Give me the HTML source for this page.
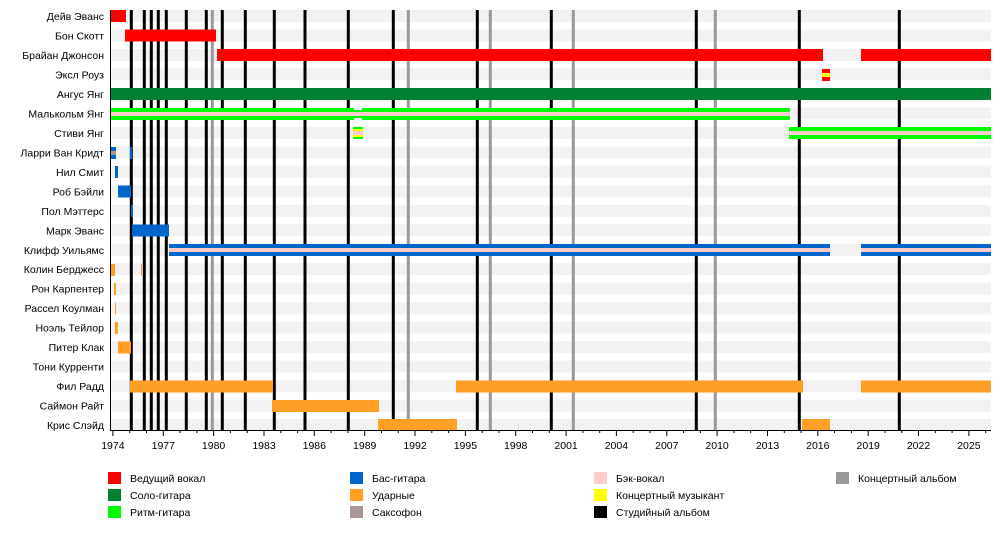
<!DOCTYPE html>
<html><head><meta charset="utf-8"><style>
body{margin:0;background:#fff}
svg{display:block;font-family:"Liberation Sans",Arial,sans-serif;font-size:10.5px}
</style></head><body>
<svg width="1000" height="540" xmlns="http://www.w3.org/2000/svg">
<g fill="#f2f2f2">
<rect x="111" y="10" width="880" height="12"/><rect x="111" y="29.5" width="880" height="12"/><rect x="111" y="49" width="880" height="12"/><rect x="111" y="68.4" width="880" height="12"/><rect x="111" y="87.9" width="880" height="12"/><rect x="111" y="107.4" width="880" height="12"/><rect x="111" y="126.9" width="880" height="12"/><rect x="111" y="146.4" width="880" height="12"/><rect x="111" y="165.8" width="880" height="12"/><rect x="111" y="185.3" width="880" height="12"/><rect x="111" y="204.8" width="880" height="12"/><rect x="111" y="224.3" width="880" height="12"/><rect x="111" y="243.8" width="880" height="12"/><rect x="111" y="263.2" width="880" height="12"/><rect x="111" y="282.7" width="880" height="12"/><rect x="111" y="302.2" width="880" height="12"/><rect x="111" y="321.7" width="880" height="12"/><rect x="111" y="341.2" width="880" height="12"/><rect x="111" y="360.6" width="880" height="12"/><rect x="111" y="380.1" width="880" height="12"/><rect x="111" y="399.6" width="880" height="12"/><rect x="111" y="419" width="880" height="11"/>
</g>
<g fill="#000">
<rect x="129.8" y="10" width="3" height="420"/><rect x="142.8" y="10" width="3" height="420"/><rect x="149.8" y="10" width="3" height="420"/><rect x="156.8" y="10" width="3" height="420"/><rect x="164.8" y="10" width="3" height="420"/><rect x="184.8" y="10" width="3" height="420"/><rect x="204.8" y="10" width="3" height="420"/><rect x="220.8" y="10" width="3" height="420"/><rect x="243.8" y="10" width="3" height="420"/><rect x="272.8" y="10" width="3" height="420"/><rect x="303.5" y="10" width="3" height="420"/><rect x="346.8" y="10" width="3" height="420"/><rect x="391.8" y="10" width="3" height="420"/><rect x="475.8" y="10" width="3" height="420"/><rect x="549.8" y="10" width="3" height="420"/><rect x="694.8" y="10" width="3" height="420"/><rect x="797.8" y="10" width="3" height="420"/><rect x="897.8" y="10" width="3" height="420"/>
</g>
<g fill="#999">
<rect x="210.8" y="10" width="3" height="420"/><rect x="406.8" y="10" width="3" height="420"/><rect x="488.8" y="10" width="3" height="420"/><rect x="571.8" y="10" width="3" height="420"/><rect x="713.8" y="10" width="3" height="420"/>
</g>
<g fill="#ff0000">
<rect x="111" y="10" width="15" height="12"/>
<rect x="125" y="29.5" width="91" height="12"/>
<rect x="217" y="49" width="606" height="12"/><rect x="861" y="49" width="130" height="12"/>
<rect x="822" y="69" width="8" height="12"/>
</g>
<rect x="822" y="73" width="8" height="4" fill="#ffff00"/>
<rect x="111" y="88" width="880" height="12" fill="#008033"/>
<rect x="111" y="108" width="243" height="12" fill="#00ff00"/><rect x="362" y="108" width="428" height="12" fill="#00ff00"/>
<rect x="354" y="110" width="8" height="8" fill="#00ff00"/>
<rect x="111" y="112" width="679" height="4" fill="#ffcccc"/>
<rect x="353" y="127" width="10" height="12" fill="#00ff00"/>
<rect x="353" y="129" width="10" height="8" fill="#ffff00"/>
<rect x="353" y="131" width="10" height="4" fill="#ffcccc"/>
<rect x="789" y="127" width="202" height="12" fill="#00ff00"/>
<rect x="789" y="131" width="202" height="4" fill="#ffcccc"/>
<g fill="#0066cc">
<rect x="111" y="147" width="5" height="12"/><rect x="130" y="147" width="2" height="12"/>
<rect x="115" y="166" width="3" height="12"/>
<rect x="118" y="185.5" width="13" height="12"/>
<rect x="131" y="205" width="2" height="12"/>
<rect x="132" y="224.5" width="37" height="12"/>
<rect x="169" y="244" width="661" height="12"/><rect x="861" y="244" width="130" height="12"/>
</g>
<rect x="111" y="151" width="5" height="4" fill="#ad9696"/>
<rect x="169" y="248" width="661" height="4" fill="#ffcccc"/><rect x="861" y="248" width="130" height="4" fill="#ffcccc"/>
<g fill="#ff9f26">
<rect x="111" y="264" width="4" height="12"/><rect x="141" y="264" width="1" height="12"/>
<rect x="114" y="283" width="2" height="12"/>
<rect x="115" y="302.5" width="1" height="12"/>
<rect x="115" y="322" width="3" height="12"/>
<rect x="118" y="341.5" width="13" height="12"/>
<rect x="130" y="380.5" width="143" height="12"/><rect x="456" y="380.5" width="347" height="12"/><rect x="861" y="380.5" width="130" height="12"/>
<rect x="272" y="400" width="107" height="12"/>
<rect x="378" y="419" width="79" height="11"/><rect x="802" y="419" width="28" height="11"/>
</g>
<rect x="110" y="10" width="1" height="421" fill="#000"/>
<rect x="110" y="430" width="881" height="1" fill="#000"/>
<g stroke="#000" stroke-width="1">
<path d="M112.9 430v6M163.3 430v6M213.6 430v6M264 430v6M314.3 430v6M364.7 430v6M415 430v6M465.4 430v6M515.7 430v6M566.1 430v6M616.4 430v6M666.8 430v6M717.1 430v6M767.5 430v6M817.8 430v6M868.2 430v6M918.5 430v6M968.9 430v6"/>
<path d="M129.7 430v3M146.5 430v3M180.1 430v3M196.9 430v3M230.4 430v3M247.2 430v3M280.8 430v3M297.6 430v3M331.1 430v3M347.9 430v3M381.5 430v3M398.3 430v3M431.8 430v3M448.6 430v3M482.2 430v3M499 430v3M532.5 430v3M549.3 430v3M582.9 430v3M599.7 430v3M633.2 430v3M650 430v3M683.6 430v3M700.4 430v3M733.9 430v3M750.7 430v3M784.3 430v3M801.1 430v3M834.6 430v3M851.4 430v3M885 430v3M901.8 430v3M935.3 430v3M952.1 430v3M985.7 430v3"/>
</g>
<g fill="#000" text-anchor="middle">
<text x="112.9" y="449">1974</text><text x="163.3" y="449">1977</text><text x="213.6" y="449">1980</text><text x="264" y="449">1983</text><text x="314.3" y="449">1986</text><text x="364.7" y="449">1989</text><text x="415" y="449">1992</text><text x="465.4" y="449">1995</text><text x="515.7" y="449">1998</text><text x="566.1" y="449">2001</text><text x="616.4" y="449">2004</text><text x="666.8" y="449">2007</text><text x="717.1" y="449">2010</text><text x="767.5" y="449">2013</text><text x="817.8" y="449">2016</text><text x="868.2" y="449">2019</text><text x="918.5" y="449">2022</text><text x="968.9" y="449">2025</text>
</g>
<g fill="#000" text-anchor="end">
<text x="104" y="20">Дейв Эванс</text><text x="104" y="39.5">Бон Скотт</text><text x="104" y="59">Брайан Джонсон</text><text x="104" y="78.4">Эксл Роуз</text><text x="104" y="97.9">Ангус Янг</text><text x="104" y="117.4">Малькольм Янг</text><text x="104" y="136.9">Стиви Янг</text><text x="104" y="156.4">Ларри Ван Кридт</text><text x="104" y="175.8">Нил Смит</text><text x="104" y="195.3">Роб Бэйли</text><text x="104" y="214.8">Пол Мэттерс</text><text x="104" y="234.3">Марк Эванс</text><text x="104" y="253.8">Клифф Уильямс</text><text x="104" y="273.2">Колин Берджесс</text><text x="104" y="292.7">Рон Карпентер</text><text x="104" y="312.2">Рассел Коулман</text><text x="104" y="331.7">Ноэль Тейлор</text><text x="104" y="351.2">Питер Клак</text><text x="104" y="370.6">Тони Курренти</text><text x="104" y="390.1">Фил Радд</text><text x="104" y="409.6">Саймон Райт</text><text x="104" y="429">Крис Слэйд</text>
</g>
<rect x="108" y="472" width="13" height="12" fill="#ff0000"/><rect x="108" y="489" width="13" height="12" fill="#008033"/><rect x="108" y="506" width="13" height="12" fill="#00ff00"/>
<rect x="350" y="472" width="13" height="12" fill="#0066cc"/><rect x="350" y="489" width="13" height="12" fill="#ff9f26"/><rect x="350" y="506" width="13" height="12" fill="#ad9696"/>
<rect x="594" y="472" width="13" height="12" fill="#ffcccc"/><rect x="594" y="489" width="13" height="12" fill="#ffff00"/><rect x="594" y="506" width="13" height="12" fill="#000"/>
<rect x="836" y="472" width="13" height="12" fill="#999"/>
<g fill="#000">
<text x="130" y="482">Ведущий вокал</text><text x="130" y="499">Соло-гитара</text><text x="130" y="516">Ритм-гитара</text>
<text x="372" y="482">Бас-гитара</text><text x="372" y="499">Ударные</text><text x="372" y="516">Саксофон</text>
<text x="616" y="482">Бэк-вокал</text><text x="616" y="499">Концертный музыкант</text><text x="616" y="516">Студийный альбом</text>
<text x="858" y="482">Концертный альбом</text>
</g>
</svg>
</body></html>
